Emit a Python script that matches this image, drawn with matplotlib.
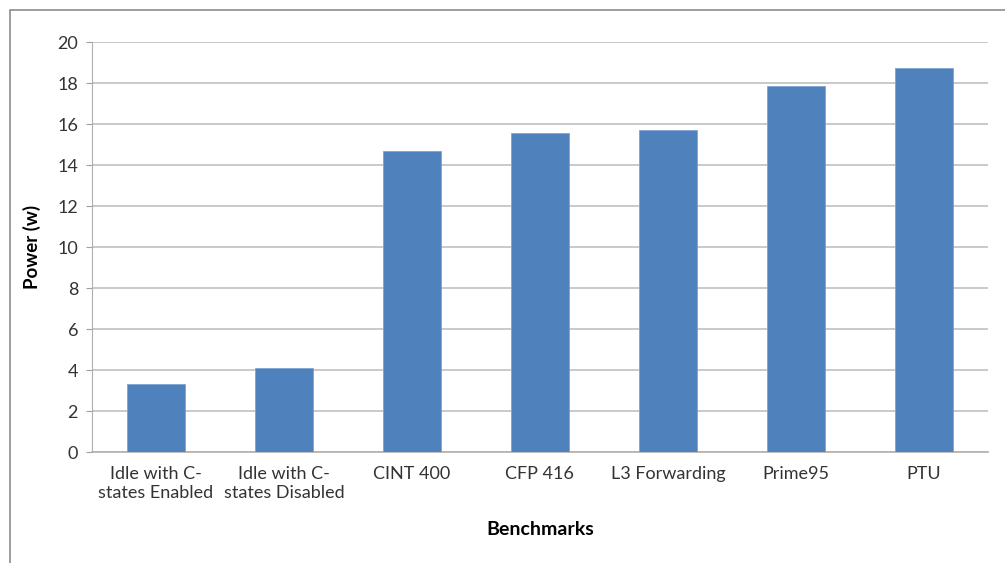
import numpy as np
import matplotlib.pyplot as plt
from matplotlib.patches import Rectangle

categories = ["Idle with C-\nstates Enabled", "Idle with C-\nstates Disabled", "CINT 400",
              "CFP 416", "L3 Forwarding", "Prime95", "PTU"]
power = [3.31, 4.12, 14.69, 15.59, 15.74, 17.84, 18.73]
y_ticks = [0, 2, 4, 6, 8, 10, 12, 14, 16, 18, 20]

plt.rcParams['font.family'] = ['Lato', 'DejaVu Sans']

fig = plt.figure(figsize=(10.05, 5.63), dpi=100)
# outer chart border (cut off at right and bottom)
fig.patches.append(Rectangle((10 / 1005, -0.1), 1.2, 1 - 10 / 563 + 0.1, transform=fig.transFigure,
                             fill=False, edgecolor="#8c8c8c", linewidth=1.2))

ax = fig.add_axes([0.0915, 0.197, 0.8915, 0.728])
x = np.arange(len(categories))
ax.bar(x, power, width=0.45, color="#4F81BD", edgecolor="#7fa3d3", linewidth=0.6, zorder=3)

ax.set_xlim(-0.5, len(categories) - 0.5)
ax.set_ylim(0, 20)
ax.set_yticks(y_ticks)
ax.set_xticks(x)
ax.set_xticklabels(categories, fontsize=13, color="#333333", linespacing=1.25)
ax.tick_params(axis="y", labelsize=13, colors="#333333", length=4, color="#a0a0a0", pad=6)
ax.tick_params(axis="x", length=0, pad=10)
ax.yaxis.grid(True, color="#c0c0c0", linewidth=1.2, zorder=0)

for side in ["top", "right"]:
    ax.spines[side].set_visible(False)
ax.spines["left"].set_color("#b0b0b0")
ax.spines["bottom"].set_color("#b0b0b0")
ax.spines["bottom"].set_linewidth(1.2)

ax.set_ylabel("Power (w)", fontsize=13.5, fontweight="bold", labelpad=12)
ax.set_xlabel("Benchmarks", fontsize=14, fontweight="bold", labelpad=14)

fig.savefig("out.png", dpi=100)
